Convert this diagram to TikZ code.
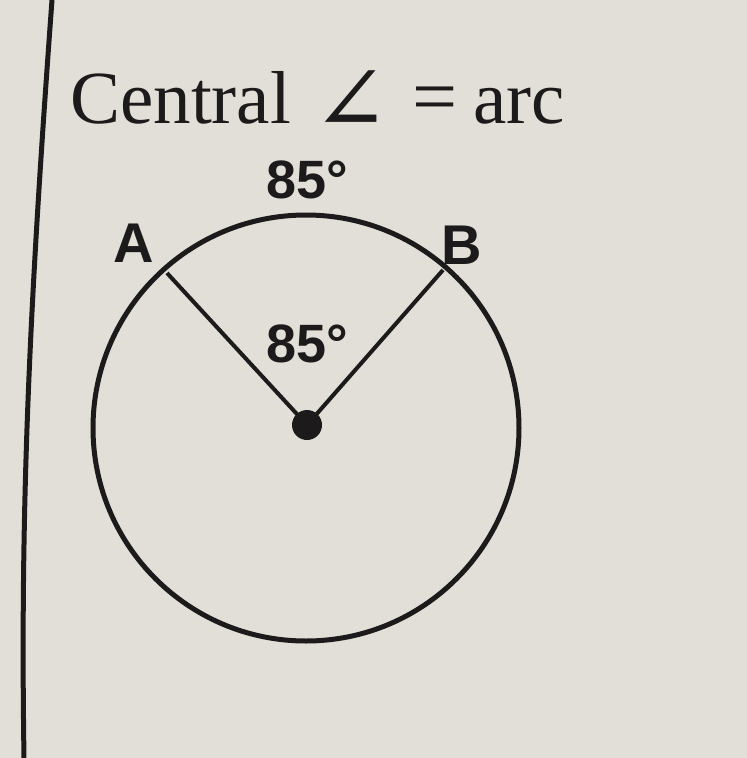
\documentclass[tikz,border=0pt]{standalone}
\usepackage{fontspec}
\setmainfont{Liberation Serif}
\setsansfont{Liberation Sans}
\newfontfamily\anglefont{DejaVu Serif}
\usetikzlibrary{positioning, calc}
\definecolor{paper}{RGB}{226,223,216}
\definecolor{ink}{RGB}{28,26,26}

\begin{document}
\begin{tikzpicture}[x=1pt, y=-1pt,
        title/.style={font=\fontsize{75}{80}\selectfont, text=ink, inner sep=0pt, anchor=base west},
        deg/.style={font=\sffamily\bfseries\fontsize{54}{54}\selectfont, text=ink, inner sep=0pt},
        pt/.style={font=\sffamily\bfseries\fontsize{56}{56}\selectfont, text=ink, inner sep=0pt},
        radius/.style={draw=ink, line width=4pt}]

        % Fond
        \fill[paper] (0,0) rectangle (747,758);
        \useasboundingbox (0,0) rectangle (747,758);

        % Trait de marge
        \coordinate (mtop) at (52,0);
        \coordinate (mbot) at (24,758);
        \draw[ink, line width=5pt] (mtop) .. controls (30,300) and (20,500) .. (mbot);

        % Titre
        \node (title) [title] at (70,123) {Central\hspace{22pt}\raisebox{-8pt}{\anglefont\fontsize{92}{92}\selectfont ∠}\hspace{22pt}{\fontsize{80}{80}\selectfont =}\hspace{16pt}arc};

        % Cercle et centre
        \coordinate (O) at (306,428);
        \node (circ) [circle, draw=ink, line width=5pt, minimum size=426pt, inner sep=0pt] at (O) {};
        \node (dot) [circle, fill=ink, minimum size=30pt, inner sep=0pt] at (307,425) {};

        % Points sur le cercle
        \coordinate (A) at (167,273);
        \coordinate (B) at (443,270);
        \node (lA) [pt] at (134,243) {A};
        \node (lB) [pt] at (462,245) {B};

        % Rayons
        \draw[radius] (dot.center) -- (A);
        \draw[radius] (dot.center) -- (B);

        % Mesures
        \node (arcdeg) [deg] at (307,180) {85°};
        \node (angdeg) [deg] at (307,344) {85°};

    \end{tikzpicture}
\end{document}
